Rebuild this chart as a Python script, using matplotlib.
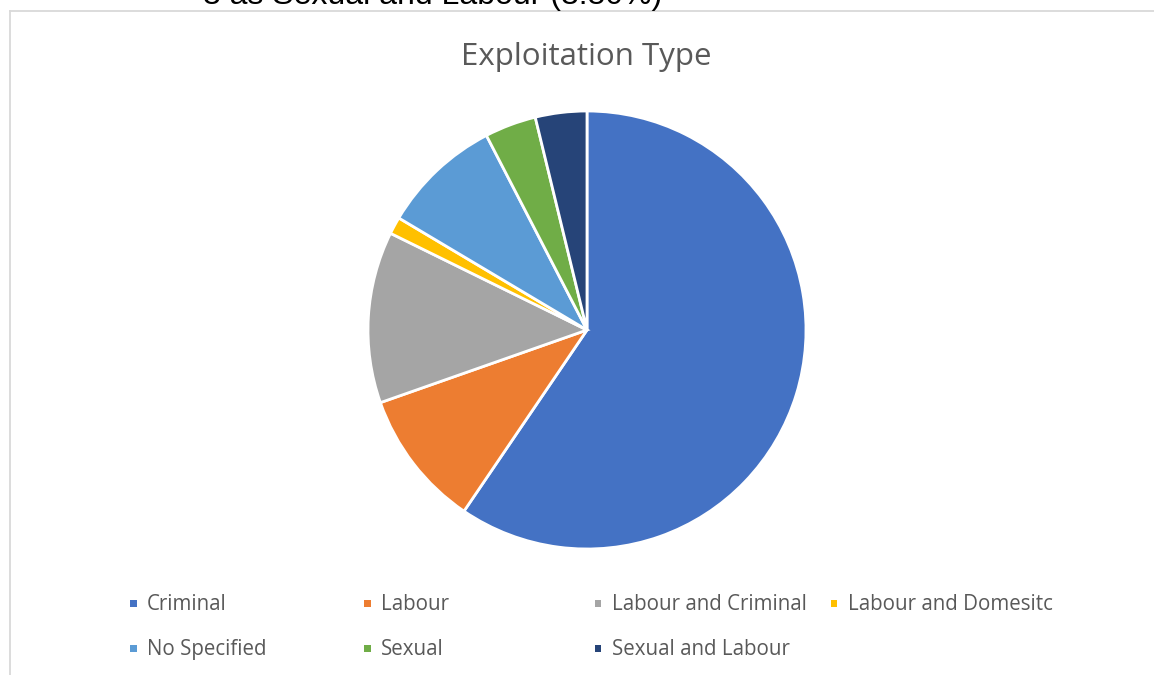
import matplotlib.pyplot as plt
from matplotlib.patches import Rectangle
from matplotlib.lines import Line2D

labels = ["Criminal", "Labour", "Labour and Criminal", "Labour and Domesitc",
          "No Specified", "Sexual", "Sexual and Labour"]
counts = [47, 8, 10, 1, 7, 3, 3]
colors = ["#4472C4", "#ED7D31", "#A5A5A5", "#FFC000", "#5B9BD5", "#70AD47", "#264478"]

W, H = 1154, 675
fig = plt.figure(figsize=(W / 100, H / 100), dpi=100)

# px -> figure coords
def fx(px):
    return px / W

def fy(py):
    return 1 - py / H

# chart border (only top and left visible)
fig.add_artist(Line2D([fx(9.5), 1], [fy(11), fy(11)], color="#d9d9d9", lw=1.3))
fig.add_artist(Line2D([fx(9.5), fx(9.5)], [fy(11), 0], color="#d9d9d9", lw=1.3))

# text cut off above the chart
fig.text(fx(155), fy(6), "\u2022", fontsize=23, family="Liberation Sans", va="baseline")
fig.text(fx(203), fy(4), "3 as Sexual and Labour (3.80%)", fontsize=23,
         family="Liberation Sans", va="baseline", color="black")

fig.text(fx(586), fy(57), "Exploitation Type", fontsize=22.5, family="Open Sans",
         color="#595959", ha="center", va="center")

cx, cy, r = 587, 330, 219
ax = fig.add_axes([fx(cx - r), fy(cy + r), 2 * r / W, 2 * r / H])
ax.pie(counts, colors=colors, startangle=90, counterclock=False,
       wedgeprops=dict(edgecolor="white", linewidth=2))
ax.set_xlim(-1, 1)
ax.set_ylim(-1, 1)
ax.set_aspect("equal")

# legend
legend_x = [133, 367, 598, 834]
legend_y = [603, 648]
for i, (lab, col) in enumerate(zip(labels, colors)):
    px = legend_x[i % 4]
    py = legend_y[i // 4]
    fig.add_artist(Rectangle((fx(px - 3.5), fy(py + 3.5)), 7 / W, 7 / H,
                             facecolor=col, edgecolor="none", transform=fig.transFigure))
    fig.text(fx(px + 14), fy(py + 1.5), lab, fontsize=14.8, family="Open Sans",
             color="#595959", va="center", ha="left")

fig.savefig("out.png", dpi=100)
